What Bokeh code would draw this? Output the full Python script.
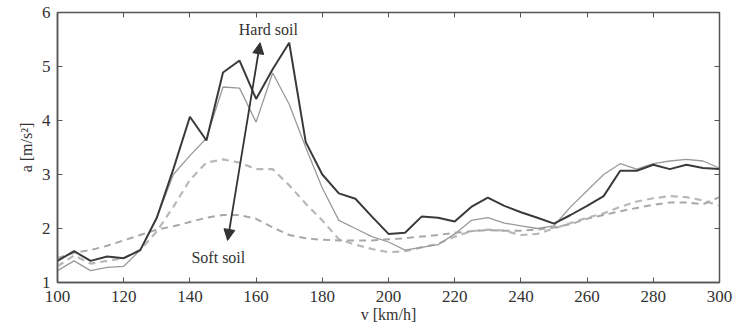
from bokeh.plotting import figure
from bokeh.models import (LinearAxis, Range1d, Arrow, NormalHead, Label, FixedTicker,
                          CustomLabelingPolicy)
from bokeh.embed import file_html
from bokeh.resources import INLINE

speed = [100, 105, 110, 115, 120, 125, 130, 135, 140, 145, 150, 155, 160, 165, 170,
         175, 180, 185, 190, 195, 200, 205, 210, 215, 220, 225, 230, 235, 240, 245,
         250, 255, 260, 265, 270, 275, 280, 285, 290, 295, 300]

hard_a = [1.40, 1.58, 1.40, 1.48, 1.45, 1.60, 2.20, 3.10, 4.07, 3.63, 4.89, 5.11, 4.40, 4.95, 5.44,
          3.60, 3.00, 2.65, 2.55, 2.22, 1.90, 1.92, 2.22, 2.20, 2.13, 2.40, 2.57, 2.42, 2.30, 2.20,
          2.09, 2.25, 2.42, 2.60, 3.07, 3.07, 3.18, 3.10, 3.18, 3.12, 3.10]

hard_b = [1.22, 1.40, 1.22, 1.28, 1.30, 1.60, 2.20, 3.00, 3.35, 3.67, 4.62, 4.60, 3.97, 4.88, 4.30,
          3.50, 2.75, 2.15, 2.00, 1.85, 1.75, 1.60, 1.65, 1.70, 1.90, 2.15, 2.20, 2.10, 2.05, 2.00,
          2.05, 2.40, 2.70, 3.00, 3.20, 3.10, 3.20, 3.25, 3.28, 3.25, 3.12]

soft_a = [1.30, 1.50, 1.35, 1.40, 1.45, 1.60, 1.95, 2.40, 2.90, 3.22, 3.28, 3.22, 3.10, 3.10, 2.80,
          2.46, 2.15, 1.80, 1.70, 1.62, 1.56, 1.58, 1.65, 1.72, 1.85, 1.95, 1.98, 1.96, 1.88, 1.90,
          2.00, 2.10, 2.20, 2.28, 2.40, 2.50, 2.56, 2.60, 2.58, 2.52, 2.42]

soft_b = [1.45, 1.55, 1.60, 1.68, 1.78, 1.88, 1.98, 2.04, 2.12, 2.20, 2.25, 2.25, 2.18, 2.02, 1.88,
          1.82, 1.79, 1.78, 1.78, 1.78, 1.80, 1.82, 1.85, 1.88, 1.92, 1.95, 1.97, 1.96, 1.96, 1.98,
          2.02, 2.08, 2.18, 2.25, 2.32, 2.38, 2.44, 2.48, 2.48, 2.45, 2.58]

x_ticks = [100, 120, 140, 160, 180, 200, 220, 240, 260, 280, 300]
y_ticks = [1, 2, 3, 4, 5, 6]

hard_label = ("Hard soil", 163.7, 5.68)
soft_label = ("Soft soil", 148.6, 1.47)
arrow_ends = (151.4, 1.78, 161.2, 5.44)

FONT = "Liberation Serif"
INK = "#333333"
FRAME = "#555555"

p = figure(width=743, height=330, output_backend="svg", toolbar_location=None,
           x_range=Range1d(100, 300), y_range=Range1d(1, 6),
           min_border_left=57, min_border_right=24, min_border_top=12, min_border_bottom=48)
p.background_fill_color = "white"
p.border_fill_color = "white"
p.outline_line_color = FRAME
p.outline_line_width = 1.5
p.grid.visible = False

p.line(speed, soft_a, line_color="#b8b8b8", line_width=2.2, line_dash="7 5")
p.line(speed, soft_b, line_color="#a8a8a8", line_width=2.0, line_dash="7 5")
p.line(speed, hard_b, line_color="#9a9a9a", line_width=1.3)
p.line(speed, hard_a, line_color="#3a3a3a", line_width=2.0)

for ax in (p.xaxis[0], p.yaxis[0]):
    ax.major_tick_in = 5
    ax.major_tick_out = 0
    ax.minor_tick_in = 0
    ax.minor_tick_out = 0
    ax.axis_line_color = FRAME
    ax.axis_line_width = 1.5
    ax.major_tick_line_color = FRAME
    ax.major_label_text_font = FONT
    ax.major_label_text_font_size = "17px"
    ax.major_label_text_color = INK
    ax.axis_label_text_font = FONT
    ax.axis_label_text_font_size = "16px"
    ax.axis_label_text_font_style = "normal"
    ax.axis_label_text_color = INK

p.xaxis[0].ticker = FixedTicker(ticks=x_ticks)
p.yaxis[0].ticker = FixedTicker(ticks=y_ticks)
p.xaxis[0].axis_label = "v [km/h]"
p.yaxis[0].axis_label = "a [m/s²]"
p.xaxis[0].major_label_standoff = 8
p.xaxis[0].axis_label_standoff = 1
p.yaxis[0].major_label_standoff = 7
p.yaxis[0].axis_label_standoff = 4

no_labels = CustomLabelingPolicy(code="return new Set()")

top = LinearAxis(ticker=FixedTicker(ticks=x_ticks), major_label_policy=no_labels,
                 major_tick_in=5, major_tick_out=0, minor_tick_in=0, minor_tick_out=0,
                 axis_line_color=FRAME, major_tick_line_color=FRAME,
                 major_label_standoff=0, major_label_text_font_size="10px")
right = LinearAxis(ticker=FixedTicker(ticks=y_ticks), major_label_policy=CustomLabelingPolicy(code="return new Set()"),
                   major_tick_in=5, major_tick_out=0, minor_tick_in=0, minor_tick_out=0,
                   axis_line_color=FRAME, major_tick_line_color=FRAME,
                   major_label_standoff=0, major_label_text_font_size="10px")
p.add_layout(top, "above")
p.add_layout(right, "right")

x0, y0, x1, y1 = arrow_ends
p.add_layout(Arrow(x_start=x0, y_start=y0, x_end=x1, y_end=y1,
                   line_color=INK, line_width=1.8,
                   start=NormalHead(size=11, fill_color=INK, line_color=INK),
                   end=NormalHead(size=11, fill_color=INK, line_color=INK)))

for txt, lx, ly in (hard_label, soft_label):
    p.add_layout(Label(x=lx, y=ly, text=txt, text_font=FONT, text_font_size="16px",
                       text_color=INK, text_align="center", text_baseline="middle"))

open("out.html", "w").write(file_html(p, INLINE))
